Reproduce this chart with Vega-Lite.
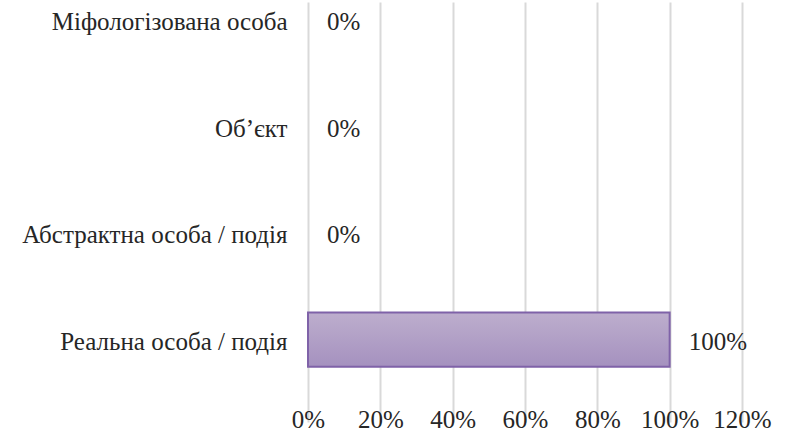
{
  "$schema": "https://vega.github.io/schema/vega-lite/v6.json",
  "width": 434,
  "height": 392,
  "autosize": {"type": "none"},
  "padding": {"left": 308, "top": 0, "right": 46, "bottom": 39},
  "background": "white",
  "config": {
    "view": {"stroke": null},
    "font": "Liberation Serif"
  },
  "data": {
    "values": [
      {"category": "Міфологізована особа", "value": 0},
      {"category": "Об’єкт", "value": 0},
      {"category": "Абстрактна особа / подія", "value": 0},
      {"category": "Реальна особа / подія", "value": 1}
    ]
  },
  "encoding": {
    "y": {
      "field": "category",
      "type": "nominal",
      "sort": null,
      "scale": {
        "domain": ["Міфологізована особа", "Об’єкт", "Абстрактна особа / подія", "Реальна особа / подія"],
        "range": [-30, 390],
        "paddingInner": 0.49,
        "paddingOuter": 0.219
      },
      "axis": {
        "title": null,
        "domain": false,
        "ticks": false,
        "labelPadding": 21,
        "labelOffset": 2,
        "labelFontSize": 25,
        "labelColor": "#262626",
        "labelFont": "Liberation Serif",
        "labelLimit": 400
      }
    },
    "x": {
      "field": "value",
      "type": "quantitative",
      "scale": {"domain": [0, 1.2], "nice": false},
      "axis": {
        "title": null,
        "format": ".0%",
        "values": [0, 0.2, 0.4, 0.6, 0.8, 1.0, 1.2],
        "domain": false,
        "ticks": false,
        "grid": true,
        "gridColor": "#d9d9d9",
        "gridWidth": 2,
        "labelPadding": 15,
        "labelFontSize": 25,
        "labelColor": "#262626",
        "labelFont": "Liberation Serif",
        "labelFlush": false
      }
    }
  },
  "layer": [
    {
      "transform": [{"filter": "datum.value > 0"}],
      "mark": {
        "type": "bar",
        "color": {
          "gradient": "linear",
          "x1": 0, "y1": 0, "x2": 0, "y2": 1,
          "stops": [
            {"offset": 0, "color": "#bdaecd"},
            {"offset": 1, "color": "#a591bf"}
          ]
        },
        "stroke": "#7f62a8",
        "strokeWidth": 2
      }
    },
    {
      "mark": {
        "type": "text",
        "align": "left",
        "baseline": "middle",
        "dx": 19,
        "dy": 2,
        "fontSize": 25,
        "color": "#262626",
        "font": "Liberation Serif"
      },
      "encoding": {
        "text": {"field": "value", "type": "quantitative", "format": ".0%"}
      }
    }
  ]
}
